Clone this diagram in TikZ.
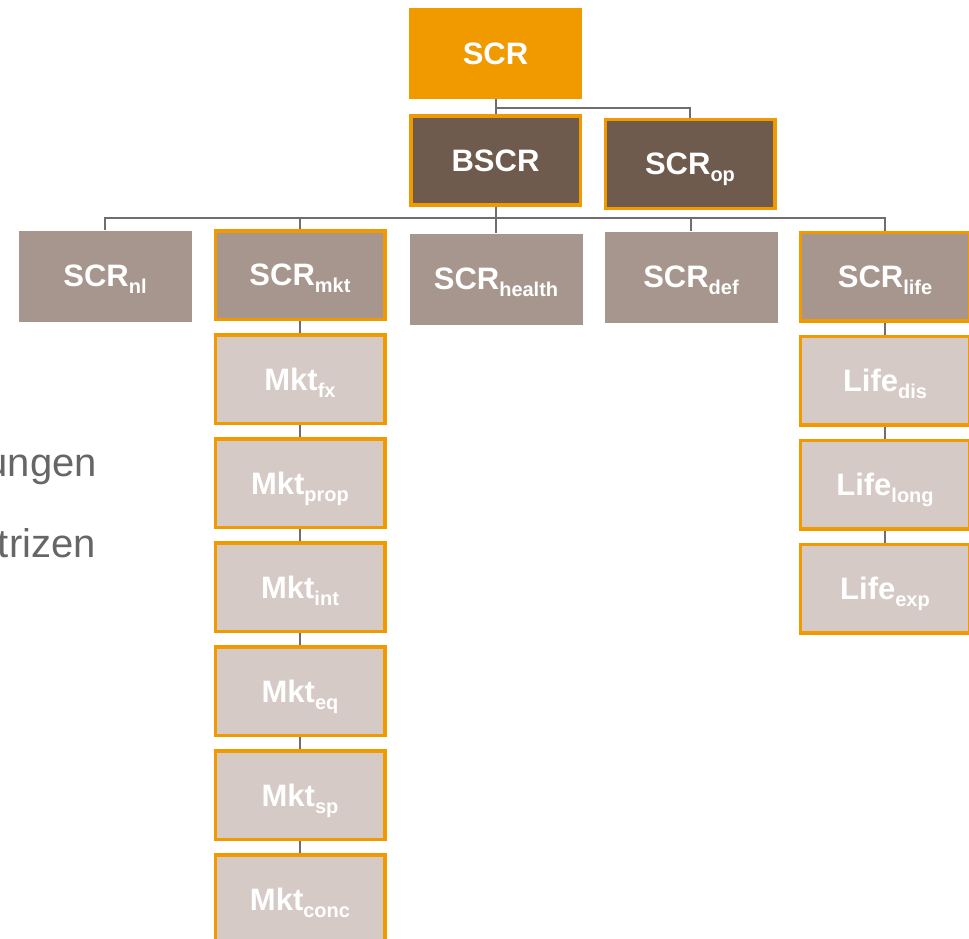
\documentclass[tikz,border=0pt]{standalone}
\usepackage{fontspec}
\setmainfont{Liberation Sans}
\usepackage{xcolor}
\usetikzlibrary{positioning}
\definecolor{scrorange}{HTML}{F09A00}
\definecolor{scrdark}{HTML}{6E5B4D}
\definecolor{scrmid}{HTML}{A6968D}
\definecolor{scrlight}{HTML}{D5CAC5}
\definecolor{linkgray}{HTML}{6E6E6E}
\definecolor{fraggray}{HTML}{666666}
\newcommand{\subtxt}[1]{\raisebox{-7pt}[0pt][0pt]{\fontsize{20}{20}\selectfont #1}}
\tikzset{
  box/.style={rectangle, inner sep=0pt, text=white,
    font=\fontsize{31}{31}\selectfont\bfseries},
  plainbox/.style={box, minimum width=173pt, minimum height=91pt},
  framebox/.style={box, draw=scrorange, line width=3.5pt,
    minimum width=169.5pt, minimum height=88.5pt},
  toplevel/.style={plainbox, fill=scrorange},
  upper/.style={framebox, fill=scrdark},
  mid/.style={plainbox, fill=scrmid},
  midframed/.style={framebox, fill=scrmid},
  leaf/.style={framebox, fill=scrlight},
  link/.style={draw=linkgray, line width=2pt},
  fragment/.style={inner sep=0pt, text=fraggray, font=\fontsize{40}{40}\selectfont}
}
\begin{document}
\begin{tikzpicture}[x=1pt,y=-1pt]
  \useasboundingbox (0,0) rectangle (969,939);
  % Spitze und zweite Ebene
  \node[toplevel] (scr) at (495.5,53.5) {SCR};
  \node[upper] (bscr) at (495.5,160.5) {BSCR};
  \node[upper] (op) at (690,164) {SCR\subtxt{op}};
  % Module
  \node[mid] (nl) at (105,276) {SCR\subtxt{nl}};
  \node[midframed] (mkt) at (300,275) {SCR\subtxt{mkt}};
  \node[mid] (health) at (496,279) {SCR\subtxt{health}};
  \node[mid] (def) at (691,277) {SCR\subtxt{def}};
  \node[midframed] (life) at (885,276.5) {SCR\subtxt{life}};
  % Untermodule Markt
  \node[leaf, below=12pt of mkt] (fx) {Mkt\subtxt{fx}};
  \node[leaf, below=12pt of fx] (prop) {Mkt\subtxt{prop}};
  \node[leaf, below=12pt of prop] (int) {Mkt\subtxt{int}};
  \node[leaf, below=12pt of int] (eq) {Mkt\subtxt{eq}};
  \node[leaf, below=12pt of eq] (sp) {Mkt\subtxt{sp}};
  \node[leaf, below=12pt of sp] (conc) {Mkt\subtxt{conc}};
  % Untermodule Leben
  \node[leaf, below=12pt of life] (dis) {Life\subtxt{dis}};
  \node[leaf, below=12pt of dis] (long) {Life\subtxt{long}};
  \node[leaf, below=12pt of long] (exp) {Life\subtxt{exp}};
  % abgeschnittener Folientext
  \node[fragment, anchor=base east] (frag1) at (97,476) {ungen};
  \node[fragment, anchor=base east] (frag2) at (96,557) {trizen};
  % Verbindungen
  \coordinate (topbus) at (0,108);
  \coordinate (bus) at (0,218);
  \draw[link] (scr) -- (bscr);
  \draw[link] (scr.south) -- (scr.south |- topbus) -| (op.north);
  \foreach \n in {nl,mkt,health,def,life}
    \draw[link] (bscr.south) -- (bscr.south |- bus) -| (\n.north);
  \foreach \a/\b in {mkt/fx,fx/prop,prop/int,int/eq,eq/sp,sp/conc,life/dis,dis/long,long/exp}
    \draw[link] (\a) -- (\b);
\end{tikzpicture}
\end{document}
